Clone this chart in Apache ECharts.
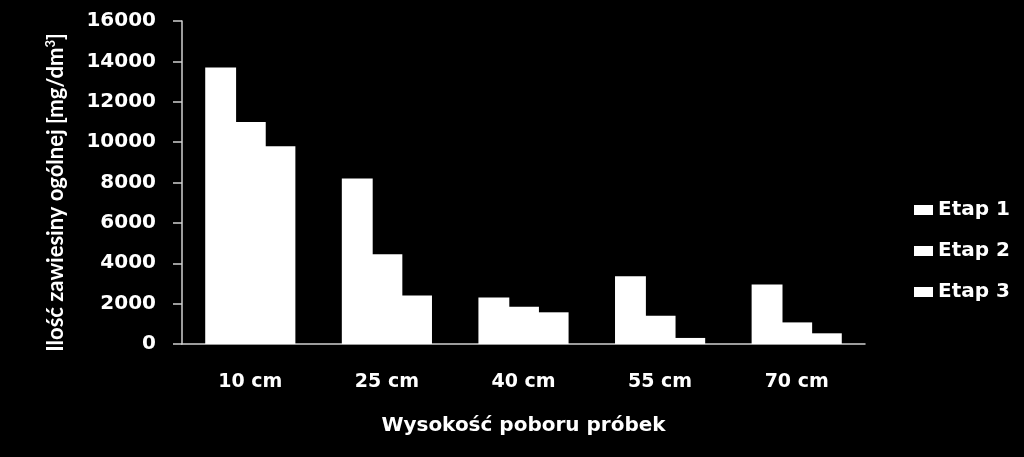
<!DOCTYPE html>
<html>
<head>
<meta charset="utf-8">
<script src="https://cdn.jsdelivr.net/npm/echarts@6/dist/echarts.min.js"></script>
<style>
  html, body { margin: 0; padding: 0; background: #000; }
  #chart { width: 1024px; height: 457px; }
</style>
</head>
<body>
<div id="chart"></div>
<script>
// dane
const categories = ['10 cm', '25 cm', '40 cm', '55 cm', '70 cm'];
const etap1 = [13700, 8200, 2300, 3350, 2950];
const etap2 = [11000, 4450, 1850, 1400, 1070];
const etap3 = [9800, 2400, 1570, 300, 530];
const seriesNames = ['Etap 1', 'Etap 2', 'Etap 3'];
const yTicks = { min: 0, max: 16000, interval: 2000 };

const font = 'DejaVu Sans';

const chart = echarts.init(document.getElementById('chart'));

// słupki stykają się ze sobą (lekka zakładka, żeby nie było szwów)
const bar = (name, data) => ({
    name: name,
    type: 'bar',
    data: data,
    barGap: '-4%',
    barCategoryGap: '34%',
    itemStyle: { color: '#ffffff' },
    emphasis: { disabled: true },
});

chart.setOption({
    backgroundColor: '#000000',
    animation: false,
    grid: { left: 182, right: 159, top: 21, bottom: 113 },
    legend: {
        orient: 'vertical',
        left: 909,
        top: 195,
        icon: 'rect',
        itemWidth: 19,
        itemHeight: 10,
        itemGap: 21,
        data: seriesNames,
        textStyle: { color: '#fff', fontFamily: font, fontWeight: 'bold', fontSize: 20, lineHeight: 20 },
    },
    xAxis: {
        type: 'category',
        data: categories,
        name: 'Wysokość poboru próbek',
        nameLocation: 'middle',
        nameGap: 72,
        nameTextStyle: { color: '#fff', fontFamily: font, fontWeight: 'bold', fontSize: 20 },
        axisLine: { lineStyle: { color: '#d0d0d0', width: 1.5 } },
        axisTick: { show: false },
        axisLabel: { color: '#fff', fontFamily: font, fontWeight: 'bold', fontSize: 19, margin: 29 },
    },
    yAxis: {
        type: 'value',
        min: yTicks.min,
        max: yTicks.max,
        interval: yTicks.interval,
        name: 'Ilość zawiesiny ogólnej [mg/dm{sup|3}]',
        nameLocation: 'middle',
        nameGap: 115,
        nameTextStyle: {
            color: '#fff', fontFamily: 'Lato', fontWeight: 'bold', fontSize: 22,
            padding: [0, 20, 0, 0],
            rich: { sup: { color: '#fff', fontFamily: 'Lato', fontWeight: 'bold', fontSize: 13, padding: [0, 0, 10, 0] } },
        },
        axisLine: { show: true, lineStyle: { color: '#d0d0d0', width: 1.5 } },
        axisTick: { show: true, length: 9, lineStyle: { color: '#d0d0d0', width: 1.5 } },
        splitLine: { show: false },
        axisLabel: {
            color: '#fff', fontFamily: font, fontWeight: 'bold', fontSize: 20, margin: 26,
            formatter: v => String(v),
        },
    },
    series: [bar(seriesNames[0], etap1), bar(seriesNames[1], etap2), bar(seriesNames[2], etap3)],
});
</script>
</body>
</html>
